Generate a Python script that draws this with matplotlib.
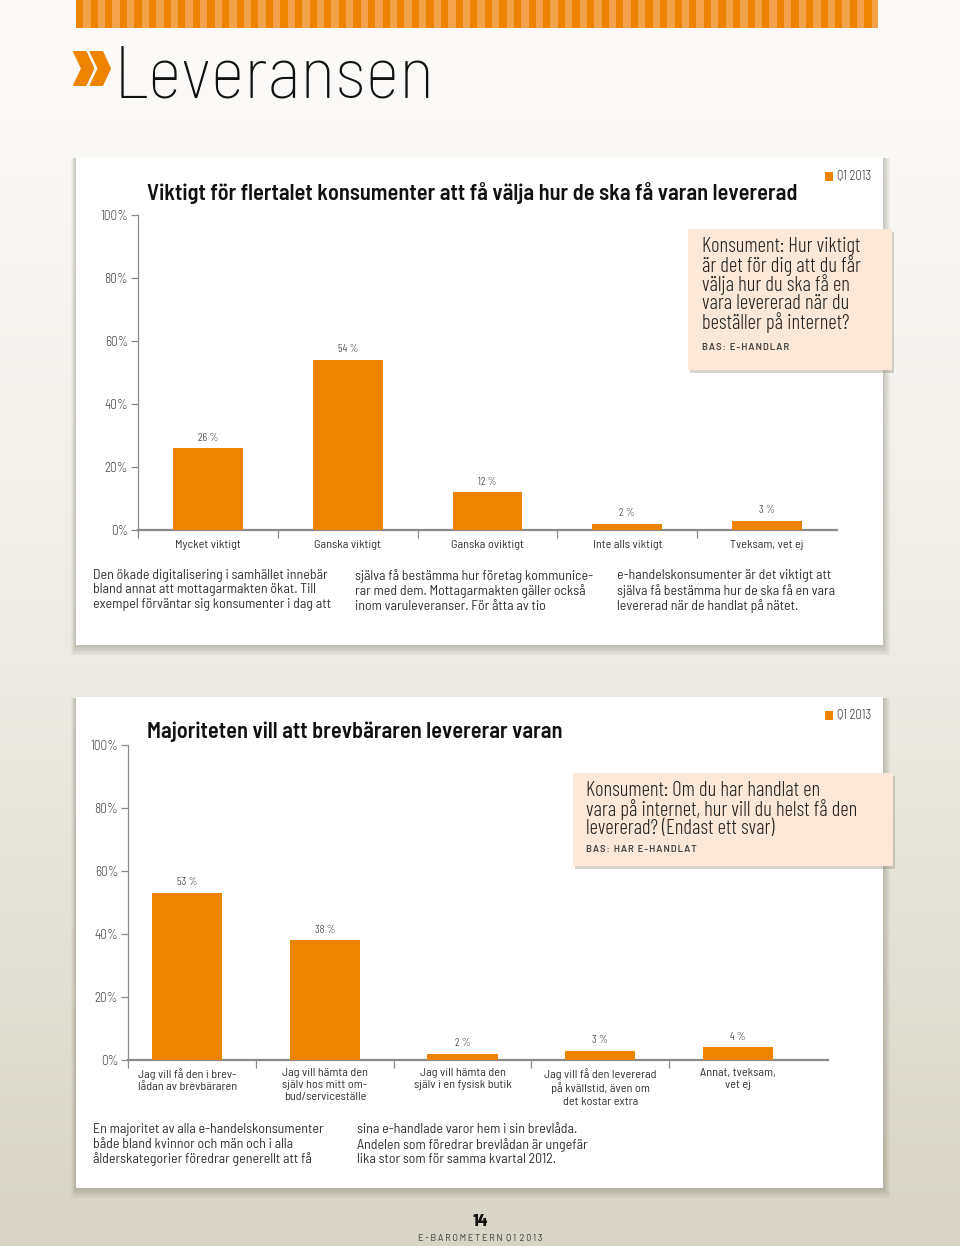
import matplotlib
matplotlib.use("Agg")
import matplotlib.pyplot as plt
import numpy as np
from matplotlib.patches import Rectangle

# ---- data ----
cats1 = ["Mycket viktigt", "Ganska viktigt", "Ganska oviktigt", "Inte alls viktigt", "Tveksam, vet ej"]
vals1 = [26, 54, 12, 2, 3]

cats2 = ["Jag vill få den i brev-\nlådan av brevbäraren",
         "Jag vill hämta den\nsjälv hos mitt om-\nbud/serviceställe",
         "Jag vill hämta den\nsjälv i en fysisk butik",
         "Jag vill få den levererad\npå kvällstid, även om\ndet kostar extra",
         "Annat, tveksam,\nvet ej"]
vals2 = [53, 38, 2, 3, 4]

yticks = [0, 20, 40, 60, 80, 100]
ytick_labels = ["0%", "20%", "40%", "60%", "80%", "100%"]

title1 = "Viktigt för flertalet konsumenter att få välja hur de ska få varan levererad"
title2 = "Majoriteten vill att brevbäraren levererar varan"
question1 = "Konsument: Hur viktigt\när det för dig att du får\nvälja hur du ska få en\nvara levererad när du\nbeställer på internet?"
base1 = "BAS: E-HANDLAR"
question2 = "Konsument: Om du har handlat en\nvara på internet, hur vill du helst få den\nlevererad? (Endast ett svar)"
base2 = "BAS: HAR E-HANDLAT"
body1 = ["Den ökade digitalisering i samhället innebär\nbland annat att mottagarmakten ökat. Till\nexempel förväntar sig konsumenter i dag att",
         "själva få bestämma hur företag kommunice-\nrar med dem. Mottagarmakten gäller också\ninom varuleveranser. För åtta av tio",
         "e-handelskonsumenter är det viktigt att\nsjälva få bestämma hur de ska få en vara\nlevererad när de handlat på nätet."]
body2 = ["En majoritet av alla e-handelskonsumenter\nbåde bland kvinnor och män och i alla\nålderskategorier föredrar generellt att få",
         "sina e-handlade varor hem i sin brevlåda.\nAndelen som föredrar brevlådan är ungefär\nlika stor som för samma kvartal 2012."]

ORANGE = "#ee8300"
COND = ["Barlow Condensed", "DejaVu Sans"]
SEMI = ["Barlow Semi Condensed", "DejaVu Sans"]
BAR = ["Barlow", "DejaVu Sans"]
W, H = 960, 1246

fig = plt.figure(figsize=(W / 100, H / 100), dpi=100)
bg = fig.add_axes([0, 0, 1, 1])
bg.set_xlim(0, W)
bg.set_ylim(H, 0)
bg.axis("off")

# page gradient
grad = np.linspace(0, 1, 256)[:, None]
top = np.array([0.988, 0.984, 0.976])
bot = np.array([0.847, 0.835, 0.776])
img = top + (bot - top) * grad[..., None] ** 1.3
bg.imshow(img, extent=[0, W, H, 0], aspect="auto", zorder=0)

# striped band on top
bg.add_patch(Rectangle((76, 0), 802, 28, color="#f3a24c", zorder=1, lw=0))
for x in np.arange(76, 878, 14.6):
    bg.add_patch(Rectangle((x, 0), 7.3, 28, color=ORANGE, zorder=2, lw=0))

# heading
bg.text(91, 71, "»", fontsize=72, color=ORANGE, fontweight=800, va="center", ha="center",
        family=COND, zorder=3)
bg.text(114, 97, "Leveransen", fontsize=53, color="#111111", fontweight=250,
        family=SEMI, va="baseline", ha="left", zorder=3)


def card(x0, y0, x1, y1):
    for i in range(7):
        bg.add_patch(Rectangle((x0 - 1 - i * 0.6, y0 + 1), x1 - x0 + 2 + i * 1.6, y1 - y0 + 1 + i * 1.3,
                               color="#6e6a5a", alpha=0.05, lw=0, zorder=2))
    bg.add_patch(Rectangle((x0, y0), x1 - x0, y1 - y0, color="white", lw=0, zorder=3))


def qbox(x0, y0, x1, y1):
    bg.add_patch(Rectangle((x0 + 2, y0 + 3), x1 - x0, y1 - y0, color="#8a8578", alpha=0.35, lw=0, zorder=4))
    bg.add_patch(Rectangle((x0, y0), x1 - x0, y1 - y0, color="#fce8d8", lw=0, zorder=5))


card(76, 157, 883, 645)
card(76, 697, 883, 1188)
qbox(688, 229, 892, 370)
qbox(573, 773, 893, 866)

# titles and legend marks
bg.text(147, 193, title1, fontsize=16.1, fontweight=600, family=SEMI, color="#111111",
        va="center", ha="left", zorder=6)
bg.text(147, 732, title2, fontsize=16.1, fontweight=600, family=SEMI, color="#111111",
        va="center", ha="left", zorder=6)
for ly in (176, 715):
    bg.add_patch(Rectangle((825, ly - 4.5), 8, 9, color=ORANGE, lw=0, zorder=6))
    bg.text(837, ly, "Q1 2013", fontsize=9, fontweight=300, family=SEMI, color="#333333",
            va="center", ha="left", zorder=6)

# question boxes
hs = "\u200a"
bg.text(702, 237, question1, fontsize=14.9, fontweight=300, family=COND, color="#222222", va="top",
        ha="left", linespacing=0.93, zorder=6)
bg.text(702, 347, hs.join(base1), fontsize=6.8, fontweight=600, family=BAR, color="#444444",
        va="center", ha="left", zorder=6)
bg.text(586, 781, question2, fontsize=14.9, fontweight=300, family=COND, color="#222222", va="top",
        ha="left", linespacing=0.93, zorder=6)
bg.text(586, 850, hs.join(base2), fontsize=6.8, fontweight=600, family=BAR, color="#444444",
        va="center", ha="left", zorder=6)

# body text
for x, t in zip((93, 355, 617), body1):
    bg.text(x, 569, t, fontsize=10, family=SEMI, color="#333333", va="top", ha="left",
            linespacing=1.15, zorder=6)
for x, t in zip((93, 357), body2):
    bg.text(x, 1123, t, fontsize=10, family=SEMI, color="#333333", va="top", ha="left",
            linespacing=1.15, zorder=6)

# footer
bg.text(480, 1222, "14", fontsize=11.5, fontweight=800, family=BAR, color="#111111",
        ha="center", va="center", zorder=6)
sp = "\u2009"
bg.text(480, 1238, sp.join("E-BAROMETERN") + "  " + sp.join("Q1") + "  " + sp.join("2013"), fontsize=6.5,
        family=BAR, color="#333333", ha="center", va="center", zorder=6)


def chart(left, right, y0, y100, xlim, cats, vals, bar_w, lab_pad, cat_pad):
    ax = fig.add_axes([left / W, 1 - y0 / H, (right - left) / W, (y0 - y100) / H])
    ax.set_facecolor("none")
    ax.set_zorder(7)
    x = np.arange(len(vals))
    ax.bar(x, vals, width=bar_w, color=ORANGE, zorder=3)
    for xi, v in zip(x, vals):
        ax.annotate(f"{v}\u2009%", (xi, v), xytext=(0, lab_pad), textcoords="offset points",
                    ha="center", va="bottom", fontsize=8.3, fontweight=300, family=COND, color="#333333")
    ax.set_xlim(*xlim)
    ax.set_ylim(0, 100)
    for s in ("top", "right"):
        ax.spines[s].set_visible(False)
    ax.spines["left"].set_color("#8a8a8a")
    ax.spines["left"].set_linewidth(0.9)
    ax.spines["bottom"].set_color("#8a8a8a")
    ax.spines["bottom"].set_linewidth(1.6)
    ax.set_yticks(yticks)
    ax.set_yticklabels(ytick_labels, fontsize=9.5, fontweight=300, family=SEMI, color="#444444")
    ax.tick_params(axis="y", length=5, width=0.9, color="#8a8a8a", pad=2)
    bounds = [xlim[0]] + list(x[:-1] + 0.5)
    ax.set_xticks(bounds)
    ax.set_xticklabels([])
    ax.tick_params(axis="x", which="major", length=6, width=0.9, color="#8a8a8a", direction="out")
    ax.set_xticks(x, minor=True)
    ax.set_xticklabels(cats, minor=True, fontsize=8.8, fontweight=400, family=SEMI, color="#333333",
                       linespacing=1.3, va="top")
    ax.tick_params(axis="x", which="minor", length=0, pad=cat_pad)
    return ax


chart(138, 837, 530, 215, (-0.5, 4.5), cats1, vals1, 0.5, 4, 7.5)
chart(128, 828, 1060, 745, (-0.431, 4.655), cats2, vals2, 0.51, 4, 5.5)

fig.savefig("out.png", dpi=100)
